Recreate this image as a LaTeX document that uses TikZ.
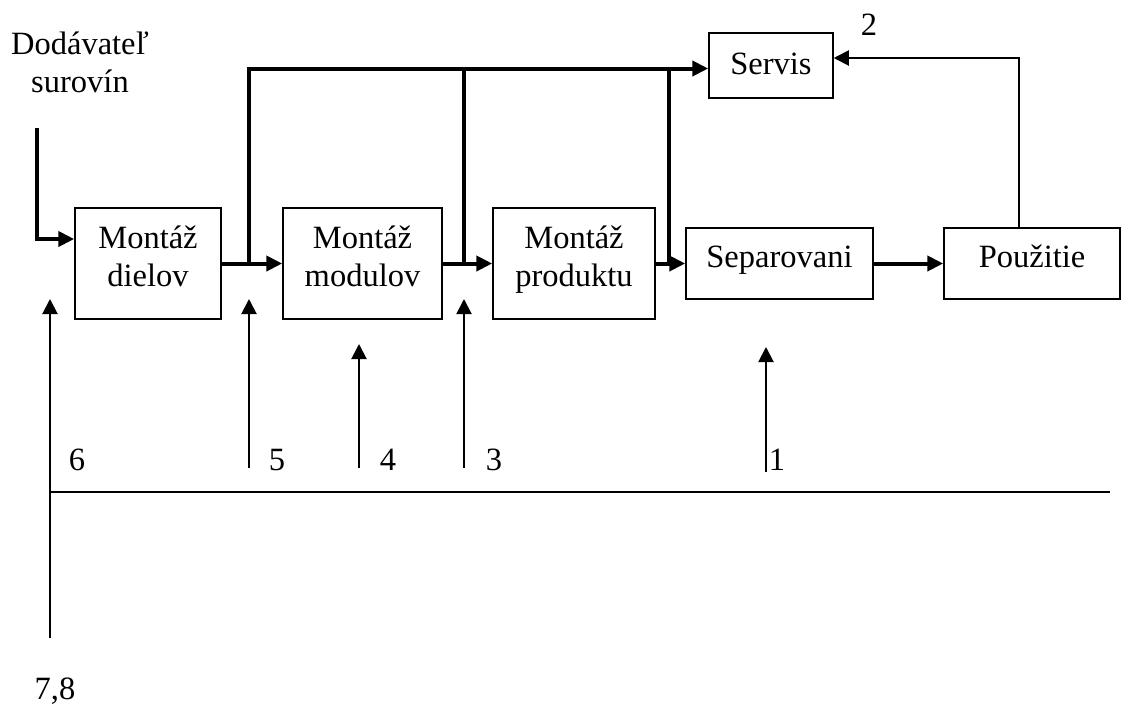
\documentclass[tikz,border=0pt]{standalone}
\usepackage{fontspec}
\setmainfont{Liberation Serif}
\usetikzlibrary{arrows.meta}
\begin{document}
\begin{tikzpicture}[x=1pt,y=-1pt,
  font=\fontsize{32.5}{38}\selectfont,
  block/.style={draw,line width=1.5pt,inner sep=0pt,align=center},
  flow/.style={line width=4pt,-{Triangle[length=16pt,width=15pt]}},
  flowline/.style={line width=4pt},
  feed/.style={line width=2pt,-{Triangle[length=15pt,width=15pt]}},
  thinline/.style={line width=2pt},
  lbl/.style={anchor=base,inner sep=0pt}]
\useasboundingbox (0,0) rectangle (1142,705);

% process blocks
\node[block,minimum width=146pt,minimum height=111pt] (dielov)   at (148,263.5)   {};
\node[block,minimum width=159pt,minimum height=111pt] (modulov)  at (362.5,263.5) {};
\node[block,minimum width=162pt,minimum height=111pt] (produktu) at (574,263.5)   {};
\node[block,minimum width=187pt,minimum height=71pt]  (separ)    at (779.5,263.5) {};
\node[block,minimum width=176pt,minimum height=71pt]  (pouz)     at (1032,263.5)  {};
\node[block,minimum width=124pt,minimum height=65pt]  (servis)   at (771,65.5)    {};

% block captions (baseline of the last line given)
\node[lbl,align=center] (tdielov)   at (148,286)   {Montáž\\dielov};
\node[lbl,align=center] (tmodulov)  at (362.5,286) {Montáž\\modulov};
\node[lbl,align=center] (tproduktu) at (574,286)   {Montáž\\produktu};
\node[lbl] (tsepar)  at (779.5,267) {Separovani};
\node[lbl] (tpouz)   at (1032,267)  {Použitie};
\node[lbl] (tservis) at (771,74)    {Servis};

% supplier
\node[lbl,align=center] (dod) at (80,92) {Dodávateľ\\surovín};
\coordinate (sup) at (37,128);
\draw[flow] (sup) |- ([yshift=24.5pt]dielov.west);

% main material flow
\draw[flow] (dielov.east) -- (modulov.west);
\draw[flow] (modulov.east) -- (produktu.west);
\draw[flow] (produktu.east) -- (separ.west);
\draw[flow] (separ.east) -- (pouz.west);

% branches to service
\coordinate (j1) at (249,263.5);
\coordinate (j2) at (464,263.5);
\coordinate (j3) at (669,263.5);
\coordinate (bus) at ([yshift=-3pt]servis.west);
\draw[flow] (j1) |- (bus);
\draw[flowline] (j2) -- (j2 |- bus);
\draw[flowline] (j3) -- (j3 |- bus);

% feedback from use to service
\coordinate (fb) at (1019,228);
\draw[feed] (fb) |- ([yshift=7.5pt]servis.east);
\node[lbl] (n2) at (869,35) {2};

% returns from the baseline
\coordinate (b6) at (50,638);
\coordinate (t6) at (50,299);
\draw[feed] (b6) -- (t6);
\coordinate (h0) at (50,492);
\coordinate (h1) at (1110,492);
\draw[thinline] (h0) -- (h1);

\coordinate (b5) at (249,468); \coordinate (t5) at (249,299);
\coordinate (b4) at (359,468); \coordinate (t4) at (359,344);
\coordinate (b3) at (464,468); \coordinate (t3) at (464,299);
\coordinate (b1) at (766,472); \coordinate (t1) at (766,347);
\draw[feed] (b5) -- (t5);
\draw[feed] (b4) -- (t4);
\draw[feed] (b3) -- (t3);
\draw[feed] (b1) -- (t1);

\node[lbl] (n6) at (77,470) {6};
\node[lbl] (n5) at (277,470) {5};
\node[lbl] (n4) at (388,470) {4};
\node[lbl] (n3) at (494,470) {3};
\node[lbl] (n1) at (777,470) {1};
\node[lbl] (n78) at (55,699) {7,8};
\end{tikzpicture}
\end{document}
